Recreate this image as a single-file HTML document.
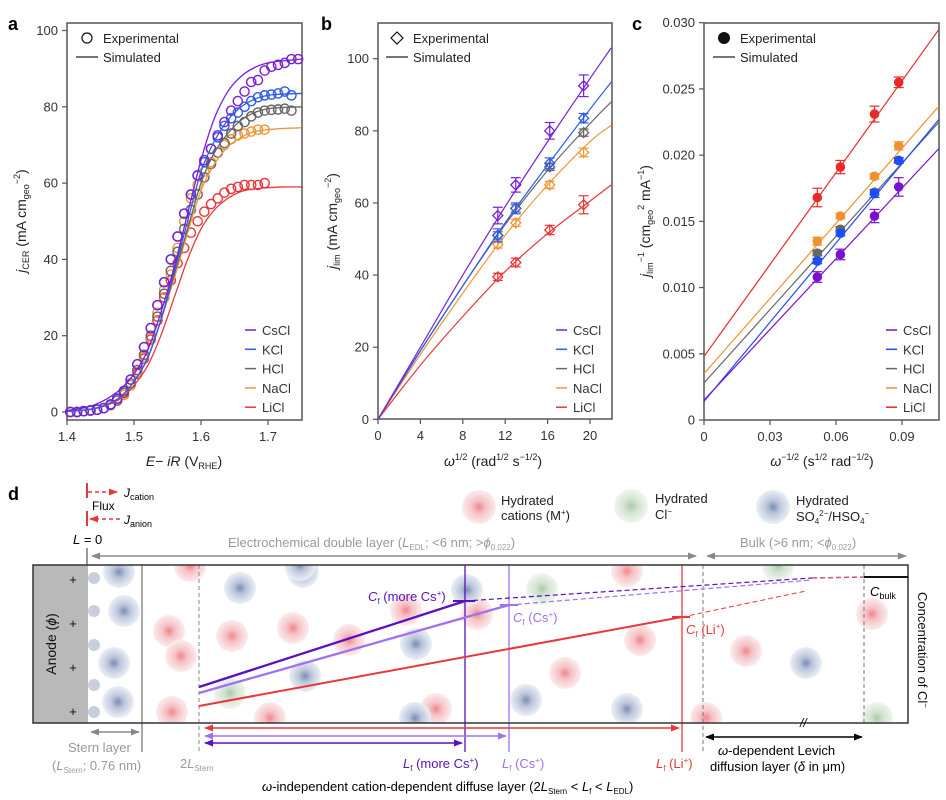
<!DOCTYPE html>
<html><head><meta charset="utf-8"><style>
body{margin:0;background:#fff;}
svg{display:block;font-family:"Liberation Sans",sans-serif;}
</style></head><body>
<svg id="fig" width="946" height="800" viewBox="0 0 946 800">
<defs>
<radialGradient id="gR"><stop offset="0" stop-color="#f0868b"/><stop offset="0.4" stop-color="#f5c2c5"/><stop offset="1" stop-color="#fbecee"/></radialGradient>
<radialGradient id="gB"><stop offset="0" stop-color="#7a8db2"/><stop offset="0.4" stop-color="#bcc6da"/><stop offset="1" stop-color="#eceff6"/></radialGradient>
<radialGradient id="gG"><stop offset="0" stop-color="#a8cca6"/><stop offset="0.4" stop-color="#d2e3d0"/><stop offset="1" stop-color="#f0f6ef"/></radialGradient>
<clipPath id="boxClip"><rect x="88" y="565" width="820" height="158"/></clipPath>
<marker id="arG" viewBox="0 0 10 10" refX="9" refY="5" markerWidth="6" markerHeight="6" orient="auto-start-reverse"><path d="M0,1L10,5L0,9z" fill="#888"/></marker>
<marker id="arK" viewBox="0 0 10 10" refX="9" refY="5" markerWidth="6" markerHeight="6" orient="auto-start-reverse"><path d="M0,1L10,5L0,9z" fill="#000"/></marker>
<marker id="arR" viewBox="0 0 10 10" refX="9" refY="5" markerWidth="6" markerHeight="6" orient="auto-start-reverse"><path d="M0,1L10,5L0,9z" fill="#e8373a"/></marker>
<marker id="arP" viewBox="0 0 10 10" refX="9" refY="5" markerWidth="6" markerHeight="6" orient="auto-start-reverse"><path d="M0,1L10,5L0,9z" fill="#a070f0"/></marker>
<marker id="arD" viewBox="0 0 10 10" refX="9" refY="5" markerWidth="6" markerHeight="6" orient="auto-start-reverse"><path d="M0,1L10,5L0,9z" fill="#5a10c0"/></marker>
</defs>
<g id="pa"></g>
<g id="pb"></g>
<g id="pc"></g>
<g id="pd">
<text x="8" y="500" font-size="18" font-weight="bold">d</text>
<g>
<line x1="87" y1="483" x2="87" y2="498" stroke="#e8373a" stroke-width="2"/>
<line x1="88" y1="492" x2="117" y2="492" stroke="#e8373a" stroke-width="1.5" stroke-dasharray="4,3" marker-end="url(#arR)"/>
<text x="124" y="497" font-size="12" font-style="italic">J<tspan font-style="normal" font-size="9" dy="3">cation</tspan></text>
<text x="92" y="510" font-size="12">Flux</text>
<line x1="87" y1="511" x2="87" y2="526" stroke="#e8373a" stroke-width="2"/>
<line x1="120" y1="519" x2="90" y2="519" stroke="#e8373a" stroke-width="1.5" stroke-dasharray="4,3" marker-end="url(#arR)"/>
<text x="124" y="524" font-size="12" font-style="italic">J<tspan font-style="normal" font-size="9" dy="3">anion</tspan></text>
<text x="73" y="544" font-size="13"><tspan font-style="italic">L</tspan> = 0</text>
<line x1="87" y1="548" x2="87" y2="565" stroke="#333" stroke-width="1"/>
</g>
<g>
<circle cx="479" cy="507" r="17" fill="url(#gR)"/>
<text x="501" y="505" font-size="13" fill="#222">Hydrated</text>
<text x="501" y="520" font-size="13" fill="#222">cations (M<tspan font-size="8" dy="-5">+</tspan><tspan dy="5">)</tspan></text>
<circle cx="631" cy="506" r="17" fill="url(#gG)"/>
<text x="655" y="503" font-size="13" fill="#222">Hydrated</text>
<text x="655" y="519" font-size="13" fill="#222">Cl<tspan font-size="8" dy="-5">−</tspan></text>
<circle cx="773" cy="507" r="17" fill="url(#gB)"/>
<text x="796" y="505" font-size="13" fill="#222">Hydrated</text>
<text x="796" y="521" font-size="13" fill="#222">SO<tspan font-size="8" dy="3">4</tspan><tspan font-size="8" dy="-8">2−</tspan><tspan dy="5">/HSO</tspan><tspan font-size="8" dy="3">4</tspan><tspan font-size="8" dy="-8">−</tspan></text>
</g>
<text x="228" y="547" font-size="13" fill="#999">Electrochemical double layer (<tspan font-style="italic">L</tspan><tspan font-size="8" dy="3">EDL</tspan><tspan dy="-3">; &lt;6 nm; &gt;</tspan><tspan font-style="italic">ϕ</tspan><tspan font-size="8" dy="3">0.022</tspan><tspan dy="-3">)</tspan></text>
<line x1="92" y1="556" x2="696" y2="556" stroke="#888" stroke-width="1.5" marker-start="url(#arG)" marker-end="url(#arG)"/>
<text x="740" y="547" font-size="13" fill="#999">Bulk (&gt;6 nm; &lt;<tspan font-style="italic">ϕ</tspan><tspan font-size="8" dy="3">0.022</tspan><tspan dy="-3">)</tspan></text>
<line x1="707" y1="556" x2="906" y2="556" stroke="#888" stroke-width="1.5" marker-start="url(#arG)" marker-end="url(#arG)"/>
<rect x="33" y="565" width="55" height="158" fill="#b9b9b9"/>
<text transform="translate(56,644) rotate(-90)" text-anchor="middle" font-size="14" fill="#111">Anode (<tspan font-style="italic">ϕ</tspan>)</text>
<g font-size="13" fill="#111" text-anchor="middle"><text x="73" y="584">+</text><text x="73" y="628">+</text><text x="73" y="672">+</text><text x="73" y="716">+</text></g>
<g id="ions" clip-path="url(#boxClip)"></g>
<g fill="#c9cedd"><circle cx="94" cy="578" r="6"/><circle cx="94" cy="611" r="6"/><circle cx="94" cy="645" r="6"/><circle cx="94" cy="685" r="6"/><circle cx="94" cy="712" r="6"/></g>
<line x1="142" y1="565" x2="142" y2="752" stroke="#555" stroke-width="1"/>
<line x1="199" y1="565" x2="199" y2="752" stroke="#888" stroke-width="1" stroke-dasharray="4,3"/>
<line x1="465" y1="565" x2="465" y2="752" stroke="#5a10c0" stroke-width="1.3"/>
<line x1="509" y1="565" x2="509" y2="752" stroke="#a070f0" stroke-width="1.3"/>
<line x1="682" y1="565" x2="682" y2="752" stroke="#e8373a" stroke-width="1.3"/>
<line x1="703" y1="565" x2="703" y2="752" stroke="#777" stroke-width="1" stroke-dasharray="4,3"/>
<line x1="864" y1="565" x2="864" y2="723" stroke="#777" stroke-width="1" stroke-dasharray="4,3"/>
<rect x="33" y="565" width="875" height="158" fill="none" stroke="#333" stroke-width="1.5"/>
<line x1="864" y1="577" x2="908" y2="577" stroke="#111" stroke-width="2"/>
<text x="870" y="596" font-size="13" font-style="italic">C<tspan font-style="normal" font-size="9" dy="3">bulk</tspan></text>
<text transform="translate(918,650) rotate(90)" text-anchor="middle" font-size="13" fill="#111">Concentration of Cl<tspan font-size="8" dy="-5">−</tspan></text>
<g>
<line x1="199" y1="687" x2="465" y2="601" stroke="#5a10c0" stroke-width="2.3"/>
<line x1="465" y1="601" x2="812" y2="578" stroke="#5a10c0" stroke-width="1.2" stroke-dasharray="5,3"/>
<line x1="199" y1="693" x2="509" y2="605" stroke="#a070f0" stroke-width="2.3"/>
<line x1="509" y1="605" x2="812" y2="580" stroke="#a070f0" stroke-width="1.2" stroke-dasharray="5,3"/>
<line x1="199" y1="706" x2="682" y2="617" stroke="#e8373a" stroke-width="2"/>
<line x1="682" y1="617" x2="806" y2="591" stroke="#e8373a" stroke-width="1" stroke-dasharray="5,3"/>
<line x1="812" y1="578" x2="864" y2="577" stroke="#d0508a" stroke-width="1.5" stroke-dasharray="5,3"/>
<line x1="453" y1="601" x2="475" y2="601" stroke="#5a10c0" stroke-width="2"/>
<line x1="500" y1="605" x2="518" y2="605" stroke="#a070f0" stroke-width="2"/>
<line x1="672" y1="617" x2="690" y2="617" stroke="#e8373a" stroke-width="2"/>
</g>
<text x="368" y="601" font-size="13" fill="#5a10c0"><tspan font-style="italic">C</tspan><tspan font-size="8" dy="3">f</tspan><tspan dy="-3"> (more Cs</tspan><tspan font-size="8" dy="-5">+</tspan><tspan dy="5">)</tspan></text>
<text x="513" y="622" font-size="13" fill="#a070f0"><tspan font-style="italic">C</tspan><tspan font-size="8" dy="3">f</tspan><tspan dy="-3"> (Cs</tspan><tspan font-size="8" dy="-5">+</tspan><tspan dy="5">)</tspan></text>
<text x="686" y="634" font-size="13" fill="#e8373a"><tspan font-style="italic">C</tspan><tspan font-size="8" dy="3">f</tspan><tspan dy="-3"> (Li</tspan><tspan font-size="8" dy="-5">+</tspan><tspan dy="5">)</tspan></text>
<line x1="205" y1="728" x2="679" y2="728" stroke="#e8373a" stroke-width="1.5" marker-start="url(#arR)" marker-end="url(#arR)"/>
<line x1="205" y1="736" x2="506" y2="736" stroke="#a070f0" stroke-width="1.5" marker-start="url(#arP)" marker-end="url(#arP)"/>
<line x1="205" y1="743" x2="462" y2="743" stroke="#5a10c0" stroke-width="1.5" marker-start="url(#arD)" marker-end="url(#arD)"/>
<line x1="91" y1="732" x2="139" y2="732" stroke="#888" stroke-width="1.5" marker-start="url(#arG)" marker-end="url(#arG)"/>
<line x1="706" y1="737" x2="862" y2="737" stroke="#000" stroke-width="1.5" marker-start="url(#arK)" marker-end="url(#arK)"/>
<text x="800" y="727" font-size="12" font-style="italic">//</text>
<text x="68" y="752" font-size="13" fill="#999">Stern layer</text>
<text x="52" y="770" font-size="13" fill="#999">(<tspan font-style="italic">L</tspan><tspan font-size="8" dy="3">Stern</tspan><tspan dy="-3">; 0.76 nm)</tspan></text>
<text x="180" y="768" font-size="13" fill="#999">2<tspan font-style="italic">L</tspan><tspan font-size="8" dy="3">Stern</tspan></text>
<text x="403" y="768" font-size="13" fill="#5a10c0"><tspan font-style="italic">L</tspan><tspan font-size="8" dy="3">f</tspan><tspan dy="-3"> (more Cs</tspan><tspan font-size="8" dy="-5">+</tspan><tspan dy="5">)</tspan></text>
<text x="502" y="768" font-size="13" fill="#a070f0"><tspan font-style="italic">L</tspan><tspan font-size="8" dy="3">f</tspan><tspan dy="-3"> (Cs</tspan><tspan font-size="8" dy="-5">+</tspan><tspan dy="5">)</tspan></text>
<text x="656" y="768" font-size="13" fill="#e8373a"><tspan font-style="italic">L</tspan><tspan font-size="8" dy="3">f</tspan><tspan dy="-3"> (Li</tspan><tspan font-size="8" dy="-5">+</tspan><tspan dy="5">)</tspan></text>
<text x="718" y="755" font-size="13"><tspan font-style="italic">ω</tspan>-dependent Levich</text>
<text x="710" y="771" font-size="13">diffusion layer (<tspan font-style="italic">δ</tspan> in μm)</text>
<text x="262" y="791" font-size="13"><tspan font-style="italic">ω</tspan>-independent cation-dependent diffuse layer (2<tspan font-style="italic">L</tspan><tspan font-size="8" dy="3">Stern</tspan><tspan dy="-3"> &lt; </tspan><tspan font-style="italic">L</tspan><tspan font-size="8" dy="3">f</tspan><tspan dy="-3"> &lt; </tspan><tspan font-style="italic">L</tspan><tspan font-size="8" dy="3">EDL</tspan><tspan dy="-3">)</tspan></text>
</g>
</svg>
<script>
const seriesNames = ["CsCl","KCl","HCl","NaCl","LiCl"];
const colorsA = ["#7a1fd6","#2e5be8","#666666","#f0963a","#e8373a"];

const aSimX = [1.40,1.42,1.44,1.46,1.48,1.50,1.52,1.54,1.56,1.58,1.60,1.62,1.64,1.66,1.68,1.70,1.72,1.75];
const aSimCsCl = [0.4,0.9,1.8,3.5,6.0,10,16,26,38,52,66,77,84,88,90.3,91.5,92,92.5];
const aSimKCl  = [0.2,0.4,0.9,2,4,8,14,24,37,50,63,71,76.5,80,82,83,83.3,83.5];
const aSimHCl  = [0.2,0.4,0.9,2,4,8,14,24,36,48,60,68,73,76.5,78.5,79.5,79.8,80];
const aSimNaCl = [0.2,0.4,0.9,2,4,8,14,24,35,47,58,65,69.5,72,73.5,74,74.3,74.5];
const aSimLiCl = [0.2,0.4,0.8,1.8,3.5,7,12,20,30,40,48,53,56,57.8,58.5,58.8,59,59];
const aExpX = [1.405,1.415,1.425,1.435,1.445,1.455,1.465,1.475,1.485,1.495,1.505,1.515,1.525,1.535,1.545,1.555,1.565,1.575,1.585,1.595,1.605,1.615,1.625,1.635,1.645,1.655,1.665,1.675,1.685,1.695,1.705,1.715,1.725,1.735,1.745];
const aExpCsCl = [0,0,0.2,0.4,0.6,1,2,3.5,5.5,8.5,12.5,17,22,28,34,40,46,52,57,62,66,69,72.5,76,79,81.5,84,86.5,87,89.5,90.5,91,91.5,92.5,92.5];
const aExpKCl  = [0,0,0.2,0.4,0.6,1,2,3.5,5.5,8.5,12.5,17,22,28,34,40,46,52,57,62,65.5,69,72,75,77,78.5,80,81.5,82.5,83,83.2,83.5,84,83];
const aExpHCl  = [0,0,0.2,0.4,0.6,1,1.8,3,5,7.5,11,15,20,25,31,37,42,48,53,57,61.5,65,68,70.5,73,75,76,77.5,78.5,79,79.2,79.3,79.5,79];
const aExpNaCl = [0,0,0.2,0.4,0.6,1,1.8,3,4.5,7,10.5,14.5,19.5,26,32,36,43,50,56,59.5,63,65.5,68,70,71.5,72.5,73,73.5,74,74];
const aExpLiCl = [0,0,0.2,0.4,0.6,1,1.8,3,4.5,7,10,14,19,24,30,34.5,39,43,47,50,52.5,54.5,56,57.5,58.5,59,59.5,59.5,59.5,60];
const aYTicks = [0,20,40,60,80,100];
const aXTicks = ["1.4","1.5","1.6","1.7"];

const bExpX = [11.3,13,16.2,19.4];
const bCsCl = [56.5,65,80,92.5]; const bCsClErr = [2.3,2,2.3,3];
const bKCl  = [51,58.5,71,83.5];  const bKClErr  = [1.8,1.5,1.5,1.3];
const bHCl  = [51,58.5,70,79.5];  const bHClErr  = [1,1,1,1];
const bNaCl = [48.5,54.5,65,74];  const bNaClErr = [1,1,1,1.2];
const bLiCl = [39.5,43.5,52.5,59.5]; const bLiClErr = [1,1.2,1.3,2.5];
const bSimX = [0,4,8,12,16,20,22];
const bSimCsCl = [0,20,40,59,77,94.5,103];
const bSimKCl  = [0,19,37,54.5,70.5,86,93.5];
const bSimHCl  = [0,19,37,54,69,82,88];
const bSimNaCl = [0,18,35,51,65,77,81.5];
const bSimLiCl = [0,15,28.5,41,51.5,60.5,65];
const bYTicks = [0,20,40,60,80,100];
const bXTicks = [0,4,8,12,16,20];

const cExpX = [0.0515,0.062,0.0775,0.0885];
const cCsCl = [0.0108,0.0125,0.0154,0.0176]; const cCsClErr = [0.0004,0.0004,0.0005,0.0007];
const cKCl  = [0.0120,0.0141,0.0171,0.0196]; const cKClErr  = [0.0002,0.0002,0.0003,0.0002];
const cHCl  = [0.0126,0.0144,0.0172,0.0196]; const cHClErr  = [0.0002,0.0002,0.0002,0.0002];
const cNaCl = [0.0135,0.0154,0.0184,0.0207]; const cNaClErr = [0.0003,0.0002,0.0002,0.0003];
const cLiCl = [0.0168,0.0191,0.0231,0.0255]; const cLiClErr = [0.0007,0.0005,0.0006,0.0004];
const cSimX = [0,0.1068];
const cSimCsCl = [0.0015,0.0205];
const cSimKCl  = [0.0014,0.0227];
const cSimHCl  = [0.0028,0.0225];
const cSimNaCl = [0.0035,0.0237];
const cSimLiCl = [0.0048,0.0295];
const cYTicks = ["0","0.005","0.010","0.015","0.020","0.025","0.030"];
const cXTicks = ["0","0.03","0.06","0.09"];

const NS="http://www.w3.org/2000/svg";
function mk(tag, attrs, parent){const e=document.createElementNS(NS,tag);for(const k in attrs)e.setAttribute(k,attrs[k]);parent.appendChild(e);return e;}
function smooth(pts){let d="M"+pts[0][0]+","+pts[0][1];for(let i=0;i<pts.length-1;i++){const p0=pts[Math.max(i-1,0)],p1=pts[i],p2=pts[i+1],p3=pts[Math.min(i+2,pts.length-1)];const c1=[p1[0]+(p2[0]-p0[0])/6,p1[1]+(p2[1]-p0[1])/6],c2=[p2[0]-(p3[0]-p1[0])/6,p2[1]-(p3[1]-p1[1])/6];d+=" C"+c1+" "+c2+" "+p2;}return d;}

function frame(g, L,T,R,B, yTicks, yFn, xTicks, xFn){
  const box=mk("rect",{x:L,y:T,width:R-L,height:B-T,fill:"none",stroke:"#555","stroke-width":1.5},g);
  
  
  yTicks.forEach(t=>{const y=yFn(+t);mk("line",{x1:L-5,y1:y,x2:L,y2:y,stroke:"#555","stroke-width":1.2},g);
    const tx=mk("text",{x:L-9,y:y+4.5,"font-size":13,"text-anchor":"end",fill:"#333"},g);tx.textContent=t;
    
    });
  xTicks.forEach(t=>{const x=xFn(+t);mk("line",{x1:x,y1:B,x2:x,y2:B+5,stroke:"#555","stroke-width":1.2},g);
    const tx=mk("text",{x:x,y:B+21,"font-size":13,"text-anchor":"middle",fill:"#333"},g);tx.textContent=t;
    
    });
}
function legend(g, x0, y0, step, colors){
  seriesNames.forEach((n,i)=>{const y=y0+i*step;mk("line",{x1:x0,y1:y,x2:x0+11,y2:y,stroke:colors[i],"stroke-width":1.5},g);
    const t=mk("text",{x:x0+17,y:y+5,"font-size":13,fill:"#333"},g);t.textContent=n;
    
    });
}
function topLegend(g, x, y, marker){
  if(marker==="circle") mk("circle",{cx:x+11,cy:y,r:5,fill:"none",stroke:"#111","stroke-width":1.2},g);
  if(marker==="diamond") mk("path",{d:`M${x+11},${y-6}L${x+17},${y}L${x+11},${y+6}L${x+5},${y}Z`,fill:"none",stroke:"#111","stroke-width":1.2},g);
  if(marker==="dot") mk("circle",{cx:x+11,cy:y,r:6,fill:"#111"},g);
  const t1=mk("text",{x:x+27,y:y+5,"font-size":13,fill:"#222"},g);t1.textContent="Experimental";
  
  
  mk("line",{x1:x,y1:y+19,x2:x+22,y2:y+19,stroke:"#222","stroke-width":1.2},g);
  const t2=mk("text",{x:x+27,y:y+24,"font-size":13,fill:"#222"},g);t2.textContent="Simulated";
  
  
}
function label(g,x,y,txt){const t=mk("text",{x:x,y:y,"font-size":18,"font-weight":"bold"},g);t.textContent=txt;
  
  }

(function(){
const g=document.getElementById("pa");
const L=67,R=302,T=23,B=420;
const xA=v=>67+(v-1.4)/0.1*67, yA=v=>412-v*3.815;
label(g,8,30,"a");
frame(g,L,T,R,B,aYTicks,yA,aXTicks,xA);
const sims=[aSimCsCl,aSimKCl,aSimHCl,aSimNaCl,aSimLiCl];
const exps=[aExpCsCl,aExpKCl,aExpHCl,aExpNaCl,aExpLiCl];
for(let s=4;s>=0;s--){
  exps[s].forEach((v,i)=>{const c=mk("circle",{cx:xA(aExpX[i]),cy:yA(v),r:4.6,fill:"none",stroke:colorsA[s],"stroke-width":1.4},g);
    
    });
}
for(let s=4;s>=0;s--){
  const p=mk("path",{d:smooth(aSimX.map((x,i)=>[xA(x),yA(sims[s][i])])),fill:"none",stroke:colorsA[s],"stroke-width":1.3},g);
  
  
}
topLegend(g,76,38,"circle");
legend(g,245,330,19.3,colorsA);
const yt=mk("text",{transform:"translate(26,221) rotate(-90)","text-anchor":"middle","font-size":14,fill:"#222"},g);
yt.innerHTML='<tspan font-style="italic">j</tspan><tspan font-size="9" dy="3">CER</tspan><tspan dy="-3"> (mA cm</tspan><tspan font-size="9" dy="3">geo</tspan><tspan font-size="9" dy="-9">−2</tspan><tspan dy="6">)</tspan>';


const xt=mk("text",{x:184,y:466,"text-anchor":"middle","font-size":14,fill:"#222"},g);
xt.innerHTML='<tspan font-style="italic">E</tspan>− <tspan font-style="italic">iR</tspan> (V<tspan font-size="9" dy="3">RHE</tspan><tspan dy="-3">)</tspan>';


})();

(function(){
const g=document.getElementById("pb");
const L=378,R=612,T=23,B=419;
const xB=v=>378+v*10.6, yB=v=>419.3-v*3.606;
label(g,321,30,"b");
frame(g,L,T,R,B,bYTicks,yB,bXTicks,xB);
const sims=[bSimCsCl,bSimKCl,bSimHCl,bSimNaCl,bSimLiCl];
const exps=[bCsCl,bKCl,bHCl,bNaCl,bLiCl];
const errs=[bCsClErr,bKClErr,bHClErr,bNaClErr,bLiClErr];
for(let s=4;s>=0;s--){
  const p=mk("path",{d:smooth(bSimX.map((x,i)=>[xB(x),yB(sims[s][i])])),fill:"none",stroke:colorsA[s],"stroke-width":1.2},g);
  
  
}
for(let s=4;s>=0;s--){
  exps[s].forEach((v,i)=>{const x=xB(bExpX[i]),y=yB(v),e=errs[s][i]*3.606;
    mk("line",{x1:x,y1:y-e,x2:x,y2:y+e,stroke:colorsA[s],"stroke-width":1.2},g);
    mk("line",{x1:x-5,y1:y-e,x2:x+5,y2:y-e,stroke:colorsA[s],"stroke-width":1.2},g);
    mk("line",{x1:x-5,y1:y+e,x2:x+5,y2:y+e,stroke:colorsA[s],"stroke-width":1.2},g);
    const d=mk("path",{d:`M${x},${y-5}L${x+5},${y}L${x},${y+5}L${x-5},${y}Z`,fill:"none",stroke:colorsA[s],"stroke-width":1.3},g);
    
    });
}
topLegend(g,386,38,"diamond");
legend(g,556,330,19.3,colorsA);
const yt=mk("text",{transform:"translate(337,221) rotate(-90)","text-anchor":"middle","font-size":14,fill:"#222"},g);
yt.innerHTML='<tspan font-style="italic">j</tspan><tspan font-size="9" dy="3">lim</tspan><tspan dy="-3"> (mA cm</tspan><tspan font-size="9" dy="3">geo</tspan><tspan font-size="9" dy="-9">−2</tspan><tspan dy="6">)</tspan>';


const xt=mk("text",{x:493,y:466,"text-anchor":"middle","font-size":14,fill:"#222"},g);
xt.innerHTML='<tspan font-style="italic">ω</tspan><tspan font-size="9" dy="-6">1/2</tspan><tspan dy="6"> (rad</tspan><tspan font-size="9" dy="-6">1/2</tspan><tspan dy="6"> s</tspan><tspan font-size="9" dy="-6">−1/2</tspan><tspan dy="6">)</tspan>';


})();

(function(){
const g=document.getElementById("pc");
const colorsC=["#7a10d0","#1f4bff","#666666","#f0902e","#e82a2a"];
const L=704,R=939,T=23,B=420;
const xC=v=>704+v/0.03*66, yC=v=>420-v/0.030*397.3;
label(g,632,30,"c");
frame(g,L,T,R,B,cYTicks,yC,cXTicks,xC);
const sims=[cSimCsCl,cSimKCl,cSimHCl,cSimNaCl,cSimLiCl];
const exps=[cCsCl,cKCl,cHCl,cNaCl,cLiCl];
const errs=[cCsClErr,cKClErr,cHClErr,cNaClErr,cLiClErr];
for(let s=4;s>=0;s--){
  const p=mk("line",{x1:xC(cSimX[0]),y1:yC(sims[s][0]),x2:xC(cSimX[1]),y2:yC(sims[s][1]),stroke:colorsC[s],"stroke-width":1.2},g);
  
  
}
for(let s=4;s>=0;s--){
  exps[s].forEach((v,i)=>{const x=xC(cExpX[i]),y=yC(v),e=errs[s][i]/0.030*397.3;
    mk("line",{x1:x,y1:y-e,x2:x,y2:y+e,stroke:colorsC[s],"stroke-width":1.2},g);
    mk("line",{x1:x-5,y1:y-e,x2:x+5,y2:y-e,stroke:colorsC[s],"stroke-width":1.2},g);
    mk("line",{x1:x-5,y1:y+e,x2:x+5,y2:y+e,stroke:colorsC[s],"stroke-width":1.2},g);
    const d=mk("circle",{cx:x,cy:y,r:4.8,fill:colorsC[s]},g);
    
    });
}
topLegend(g,713,38,"dot");
legend(g,886,330,19.3,colorsC);
const yt=mk("text",{transform:"translate(650,221) rotate(-90)","text-anchor":"middle","font-size":14,fill:"#222"},g);
yt.innerHTML='<tspan font-style="italic">j</tspan><tspan font-size="9" dy="3">lim</tspan><tspan font-size="9" dy="-9">−1</tspan><tspan dy="6"> (cm</tspan><tspan font-size="9" dy="3">geo</tspan><tspan font-size="9" dy="-9">2</tspan><tspan dy="6"> mA</tspan><tspan font-size="9" dy="-6">−1</tspan><tspan dy="6">)</tspan>';


const xt=mk("text",{x:822,y:466,"text-anchor":"middle","font-size":14,fill:"#222"},g);
xt.innerHTML='<tspan font-style="italic">ω</tspan><tspan font-size="9" dy="-6">−1/2</tspan><tspan dy="6"> (s</tspan><tspan font-size="9" dy="-6">1/2</tspan><tspan dy="6"> rad</tspan><tspan font-size="9" dy="-6">−1/2</tspan><tspan dy="6">)</tspan>';


})();

(function(){
const g=document.getElementById("ions");
const redIons=[[190,566],[169,631],[181,656],[172,712],[232,636],[293,628],[349,640],[436,709],[627,571],[640,640],[565,673],[746,651],[706,718],[872,614],[270,718],[477,614],[406,610]];
const blueIons=[[119,572],[124,611],[114,663],[118,702],[240,588],[303,572],[305,676],[415,718],[467,590],[416,644],[526,700],[627,709],[806,663],[300,565]];
const greenIons=[[230,693],[542,589],[778,566],[877,718]];
redIons.forEach(p=>{const c=mk("circle",{cx:p[0],cy:p[1],r:16,fill:"url(#gR)"},g);
  
  });
blueIons.forEach(p=>{const c=mk("circle",{cx:p[0],cy:p[1],r:16,fill:"url(#gB)"},g);
  
  });
greenIons.forEach(p=>{const c=mk("circle",{cx:p[0],cy:p[1],r:16,fill:"url(#gG)"},g);
  
  });
})();
</script>
</body></html>
